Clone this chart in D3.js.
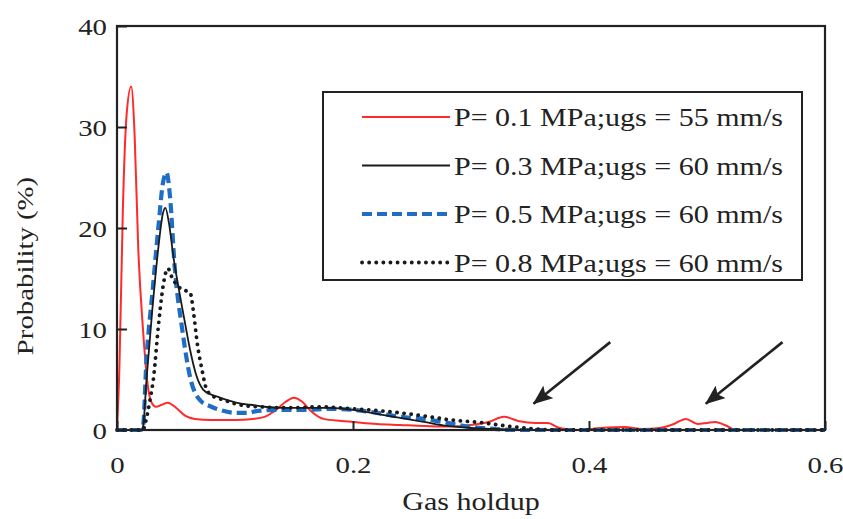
<!DOCTYPE html>
<html>
<head>
<meta charset="utf-8">
<script src="https://cdn.jsdelivr.net/npm/d3@7"></script>
<style>
  html, body { margin: 0; padding: 0; background: #fff; }
  svg { display: block; }
  text { font-family: "Liberation Serif", "Times New Roman", serif; fill: #222; }
</style>
</head>
<body>
<svg id="chart" width="843" height="519"></svg>
<script>
// Gas holdup probability distributions at four operating pressures
const holdup01 = [0, 0.002, 0.005, 0.008, 0.012, 0.015, 0.018, 0.022, 0.026, 0.029, 0.033, 0.038, 0.043, 0.05, 0.058, 0.066, 0.08, 0.1, 0.115, 0.125, 0.135, 0.143, 0.15, 0.157, 0.165, 0.175, 0.19, 0.2, 0.22, 0.24, 0.26, 0.28, 0.3, 0.315, 0.328, 0.34, 0.355, 0.365, 0.375, 0.39, 0.41, 0.43, 0.445, 0.46, 0.472, 0.482, 0.492, 0.5, 0.507, 0.515, 0.525, 0.6];
const prob01    = [0, 6, 22, 31, 34, 29, 18, 10, 4.5, 2.8, 2.3, 2.5, 2.7, 2.2, 1.4, 1.1, 1.0, 1.0, 1.1, 1.3, 2.0, 2.8, 3.2, 2.8, 1.8, 1.1, 0.9, 0.8, 0.6, 0.5, 0.4, 0.35, 0.5, 0.8, 1.3, 0.9, 0.7, 0.7, 0.2, 0, 0.2, 0.3, 0.1, 0.2, 0.6, 1.1, 0.6, 0.7, 0.8, 0.5, 0, 0];

const holdup03 = [0, 0.02, 0.022, 0.025, 0.03, 0.035, 0.039, 0.041, 0.044, 0.048, 0.052, 0.057, 0.062, 0.067, 0.073, 0.08, 0.085, 0.095, 0.105, 0.113, 0.125, 0.14, 0.16, 0.18, 0.2, 0.22, 0.24, 0.26, 0.28, 0.3, 0.32, 0.35, 0.6];
const prob03    = [0, 0, 0.3, 5, 12, 18, 21.5, 22, 20.5, 17, 14.2, 11, 7.9, 5.5, 4.0, 3.5, 3.3, 2.9, 2.6, 2.5, 2.3, 2.2, 2.2, 2.2, 2.0, 1.6, 1.2, 0.8, 0.4, 0.2, 0.1, 0, 0];

const holdup05 = [0, 0.02, 0.022, 0.025, 0.03, 0.035, 0.039, 0.042, 0.045, 0.049, 0.055, 0.062, 0.07, 0.08, 0.09, 0.1, 0.11, 0.12, 0.14, 0.16, 0.18, 0.2, 0.22, 0.24, 0.26, 0.28, 0.3, 0.32, 0.34, 0.6];
const prob05    = [0, 0, 0.3, 7, 13.6, 20, 24.5, 25.5, 23, 16, 10.2, 5.2, 3.0, 2.3, 1.9, 1.7, 1.7, 1.9, 2.0, 2.0, 2.1, 2.0, 1.7, 1.3, 1.1, 0.7, 0.3, 0.1, 0, 0];

const holdup08 = [0, 0.022, 0.024, 0.028, 0.031, 0.035, 0.039, 0.043, 0.047, 0.052, 0.058, 0.062, 0.065, 0.068, 0.072, 0.076, 0.082, 0.09, 0.1, 0.12, 0.15, 0.17, 0.2, 0.232, 0.26, 0.283, 0.311, 0.33, 0.35, 0.37, 0.6];
const prob08    = [0, 0, 0.7, 3, 5.2, 10.2, 14.2, 16, 15, 14.2, 13.8, 13.6, 11.5, 8.6, 6, 4.0, 3.3, 3.0, 2.6, 2.3, 2.2, 2.3, 2.1, 1.8, 1.4, 1.0, 0.7, 0.4, 0.15, 0, 0];

const seriesLabels = [
  "P= 0.1 MPa;ugs = 55 mm/s",
  "P= 0.3 MPa;ugs = 60 mm/s",
  "P= 0.5 MPa;ugs = 60 mm/s",
  "P= 0.8 MPa;ugs = 60 mm/s"
];
const xTickValues = [0, 0.2, 0.4, 0.6];
const yTickValues = [0, 10, 20, 30, 40];
const xTitle = "Gas holdup";
const yTitle = "Probability (%)";

// Arrows pointing at the high-holdup tail, given in data units
const arrowFrom = [[0.418, 8.7], [0.564, 8.7]];
const arrowTo   = [[0.353, 2.6], [0.499, 2.6]];

const styles = [
  { color: "#ff2a2a", width: 2, dash: null, cap: "butt" },
  { color: "#1a1a1a", width: 1.8, dash: null, cap: "butt" },
  { color: "#1f6ec4", width: 4.2, dash: "10,5", cap: "butt" },
  { color: "#1a1a1a", width: 3.8, dash: "0.1,7", cap: "round" }
];

const series = [
  { x: holdup01, y: prob01 },
  { x: holdup03, y: prob03 },
  { x: holdup05, y: prob05 },
  { x: holdup08, y: prob08 }
];

const svg = d3.select("#chart");
const m = { left: 117, right: 825, top: 26, bottom: 430 };

const x = d3.scaleLinear().domain([0, 0.6]).range([m.left, m.right]);
const y = d3.scaleLinear().domain([0, 40]).range([m.bottom, m.top]);

const line = d3.line()
  .x(d => x(d[0]))
  .y(d => y(d[1]))
  .curve(d3.curveMonotoneX);

// Curves: red, blue dashed, black solid, dotted on top
const drawOrder = [0, 2, 1, 3];
const plot = svg.append("g");
drawOrder.forEach(i => {
  const s = series[i];
  const pts = s.x.map((v, k) => [v, s.y[k]]);
  plot.append("path")
    .attr("d", line(pts))
    .attr("fill", "none")
    .attr("stroke", styles[i].color)
    .attr("stroke-width", styles[i].width)
    .attr("stroke-dasharray", styles[i].dash)
    .attr("stroke-linecap", styles[i].cap)
    .attr("stroke-linejoin", "round");
});

// Axes with inward ticks
const yAxis = svg.append("g")
  .attr("transform", `translate(${m.left},0)`)
  .call(d3.axisLeft(y).tickValues(yTickValues).tickSize(-10).tickPadding(10));
const xAxis = svg.append("g")
  .attr("transform", `translate(0,${m.bottom})`)
  .call(d3.axisBottom(x).tickValues(xTickValues).tickSize(-9).tickPadding(26)
    .tickFormat(d => String(d)));
[yAxis, xAxis].forEach(g => {
  g.select(".domain").remove();
  g.selectAll(".tick line").attr("stroke", "#222").attr("stroke-width", 2);
  g.selectAll(".tick text")
    .attr("font-size", 24)
    .attr("fill", "#222");
});
yAxis.selectAll(".tick text").attr("dy", "0.34em").attr("data-anchor", "end");
xAxis.selectAll(".tick text").attr("data-anchor", "middle");

// Plot frame
svg.append("rect")
  .attr("x", m.left).attr("y", m.top)
  .attr("width", m.right - m.left).attr("height", m.bottom - m.top)
  .attr("fill", "none").attr("stroke", "#222").attr("stroke-width", 2.2);

// Axis titles
svg.append("text")
  .attr("data-anchor", "middle")
  .attr("x", (m.left + m.right) / 2)
  .attr("y", 510)
  .attr("font-size", 25)
  .text(xTitle);
svg.append("text")
  .attr("data-anchor", "middle")
  .attr("transform", "translate(33,266) rotate(-90)")
  .attr("x", 0).attr("y", 0)
  .attr("font-size", 24)
  .text(yTitle);

// Arrows
const defs = svg.append("defs");
defs.append("marker")
  .attr("id", "head")
  .attr("viewBox", "0 0 20 16")
  .attr("refX", 19).attr("refY", 8)
  .attr("markerWidth", 20).attr("markerHeight", 16)
  .attr("markerUnits", "userSpaceOnUse")
  .attr("orient", "auto")
  .append("path")
  .attr("d", "M0,0 L20,8 L0,16 L4,8 z")
  .attr("fill", "#222");
arrowFrom.forEach((f, i) => {
  svg.append("line")
    .attr("x1", x(f[0])).attr("y1", y(f[1]))
    .attr("x2", x(arrowTo[i][0])).attr("y2", y(arrowTo[i][1]))
    .attr("stroke", "#222").attr("stroke-width", 2.6)
    .attr("marker-end", "url(#head)");
});

// Legend
const lg = svg.append("g");
lg.append("rect")
  .attr("x", 323).attr("y", 92).attr("width", 479).attr("height", 188)
  .attr("fill", "#fff").attr("stroke", "#222").attr("stroke-width", 2);
seriesLabels.forEach((label, i) => {
  const ry = 117 + i * 48.5;
  lg.append("line")
    .attr("x1", 362).attr("x2", 450).attr("y1", ry).attr("y2", ry)
    .attr("stroke", styles[i].color)
    .attr("stroke-width", styles[i].width)
    .attr("stroke-dasharray", styles[i].dash)
    .attr("stroke-linecap", styles[i].cap);
  lg.append("text")
    .attr("data-anchor", "start")
    .attr("x", 454).attr("y", ry + 9)
    .attr("font-size", 25)
    .text(label);
});

// Widen glyphs horizontally for the chart's broad serif lettering,
// placing each label from its own anchor so stretching keeps alignment
const widen = 1.2;
const shift = { start: 0, middle: 0.5, end: 1 };
svg.selectAll("text").each(function() {
  const el = d3.select(this);
  const anchor = el.attr("data-anchor") || "start";
  const len = this.getComputedTextLength() * widen;
  const x0 = +el.attr("x") || 0;
  el.attr("text-anchor", "start")
    .attr("x", x0 - len * shift[anchor])
    .attr("textLength", len)
    .attr("lengthAdjust", "spacingAndGlyphs");
});
</script>
</body>
</html>
